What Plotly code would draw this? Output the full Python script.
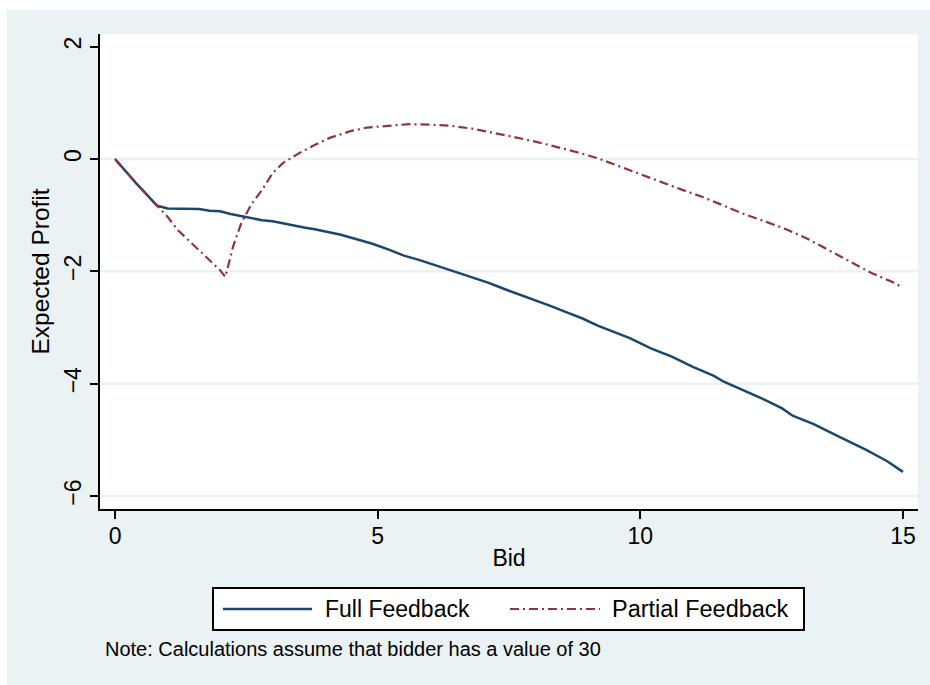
import plotly.graph_objects as go

# ---------------- data ----------------
full_bid = [0, 0.2, 0.4, 0.6, 0.8, 1.0, 1.3, 1.6, 1.8, 2.0, 2.2, 2.4, 2.6, 2.8, 3.0,
            3.2, 3.4, 3.6, 3.8, 4.0, 4.3, 4.6, 4.9, 5.2, 5.5, 5.8, 6.2, 6.5, 6.8, 7.1,
            7.4, 7.7, 8.0, 8.3, 8.6, 8.9, 9.2, 9.5, 9.8, 10.2, 10.6, 11.0, 11.4, 11.6,
            12.0, 12.4, 12.7, 12.9, 13.3, 13.6, 13.8, 14.3, 14.7, 15.0]
full_profit = [0, -0.22, -0.43, -0.63, -0.83, -0.88, -0.88, -0.89, -0.92, -0.93, -0.98,
               -1.02, -1.06, -1.09, -1.11, -1.15, -1.18, -1.22, -1.25, -1.29, -1.35,
               -1.43, -1.51, -1.61, -1.72, -1.80, -1.92, -2.01, -2.10, -2.20, -2.31,
               -2.41, -2.51, -2.62, -2.73, -2.84, -2.97, -3.08, -3.19, -3.37, -3.52,
               -3.70, -3.86, -3.97, -4.13, -4.30, -4.44, -4.57, -4.72, -4.85, -4.95,
               -5.18, -5.38, -5.57]

partial_bid = [0, 0.2, 0.4, 0.6, 0.8, 1.0, 1.2, 1.4, 1.6, 1.8, 2.0, 2.1, 2.25, 2.4, 2.6,
               2.8, 3.0, 3.2, 3.5, 3.8, 4.1, 4.5, 4.8, 5.2, 5.6, 6.0, 6.4, 6.8, 7.2, 7.6,
               8.0, 8.4, 8.8, 9.2, 9.6, 10.0, 10.4, 10.8, 11.2, 11.6, 12.0, 12.4, 12.8,
               13.2, 13.6, 14.0, 14.4, 14.8, 15.0]
partial_profit = [0, -0.22, -0.43, -0.63, -0.83, -1.03, -1.27, -1.45, -1.62, -1.80, -1.98,
                  -2.10, -1.55, -1.15, -0.80, -0.55, -0.25, -0.07, 0.10, 0.25, 0.38, 0.50,
                  0.56, 0.59, 0.62, 0.61, 0.59, 0.54, 0.47, 0.39, 0.31, 0.22, 0.12, 0.01,
                  -0.13, -0.28, -0.42, -0.55, -0.68, -0.84, -0.99, -1.12, -1.26, -1.43,
                  -1.63, -1.84, -2.03, -2.19, -2.29]

series_names = ["Full Feedback", "Partial Feedback"]
x_ticks = [0, 5, 10, 15]
y_ticks = [-6, -4, -2, 0, 2]
grid_vals = [-6, -4, -2, 0]
note_text = "Note: Calculations assume that bidder has a value of 30"

# ---------------- style ----------------
W, H = 930, 685
ML, MR, MT, MB = 100, 12, 34, 176
PW, PH = W - ML - MR, H - MT - MB
BG = "#EAF2F3"
BLUE = "#1A476F"
RED = "#90353B"
FONT = "Liberation Sans, Arial, Helvetica, sans-serif"
RED_DASH = "9px,4px,2px,4px"


def px_x(px):
    return (px - ML) / PW


def px_y(py):
    return (H - MB - py) / PH


fig = go.Figure()
fig.add_trace(go.Scatter(x=full_bid, y=full_profit, mode="lines", name=series_names[0],
                         line=dict(color=BLUE, width=2.5), showlegend=False))
fig.add_trace(go.Scatter(x=partial_bid, y=partial_profit, mode="lines", name=series_names[1],
                         line=dict(color=RED, width=2.2, dash=RED_DASH), showlegend=False))

shapes = []
# grid lines
for g in grid_vals:
    shapes.append(dict(type="line", xref="paper", yref="y", x0=0, x1=1, y0=g, y1=g,
                       line=dict(color=BG, width=2.5), layer="below"))
# white outer margins (top and left)
shapes.append(dict(type="rect", xref="paper", yref="paper", x0=px_x(0), x1=px_x(7),
                   y0=px_y(H), y1=px_y(0), fillcolor="white", line=dict(width=0)))
shapes.append(dict(type="rect", xref="paper", yref="paper", x0=px_x(0), x1=px_x(W),
                   y0=px_y(10), y1=px_y(0), fillcolor="white", line=dict(width=0)))
# legend box
shapes.append(dict(type="rect", xref="paper", yref="paper", x0=px_x(213), x1=px_x(804),
                   y0=px_y(630), y1=px_y(588), fillcolor="white",
                   line=dict(color="black", width=2)))
# legend samples
shapes.append(dict(type="line", xref="paper", yref="paper", x0=px_x(223), x1=px_x(312),
                   y0=px_y(609), y1=px_y(609), line=dict(color=BLUE, width=2.5)))
shapes.append(dict(type="line", xref="paper", yref="paper", x0=px_x(510), x1=px_x(600),
                   y0=px_y(609), y1=px_y(609), line=dict(color=RED, width=2.2, dash=RED_DASH)))

annotations = [
    dict(text=series_names[0], xref="paper", yref="paper", x=px_x(323), y=px_y(609),
         xanchor="left", yanchor="middle", showarrow=False,
         font=dict(family=FONT, size=23, color="black")),
    dict(text=series_names[1], xref="paper", yref="paper", x=px_x(610), y=px_y(609),
         xanchor="left", yanchor="middle", showarrow=False,
         font=dict(family=FONT, size=23.5, color="black")),
    dict(text=note_text, xref="paper", yref="paper", x=px_x(103), y=px_y(649),
         xanchor="left", yanchor="middle", showarrow=False,
         font=dict(family=FONT, size=20, color="black")),
]

fig.update_layout(
    width=W, height=H,
    margin=dict(l=ML, r=MR, t=MT, b=MB, pad=0),
    paper_bgcolor=BG, plot_bgcolor="white",
    font=dict(family=FONT, size=23, color="black"),
    shapes=shapes, annotations=annotations, showlegend=False,
    xaxis=dict(range=[-0.286, 15.286], tickvals=x_ticks, ticks="outside", ticklen=8,
               tickwidth=2, tickcolor="black", showline=True, linecolor="black",
               linewidth=2, showgrid=False, zeroline=False, ticklabelstandoff=-3,
               tickfont=dict(size=23), title=dict(text="Bid", font=dict(size=23), standoff=2)),
    yaxis=dict(range=[-6.231, 2.225], tickvals=y_ticks, ticks="outside", ticklen=8,
               tickwidth=2, tickcolor="black", showline=True, linecolor="black",
               linewidth=2, showgrid=False, zeroline=False, tickangle=-90,
               tickfont=dict(size=23),
               title=dict(text="Expected Profit", font=dict(size=24.5), standoff=3)),
)

fig.write_html("out.html")
